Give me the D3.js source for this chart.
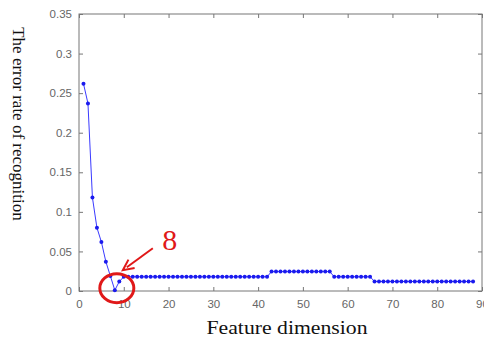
<!DOCTYPE html>
<html>
<head>
<meta charset="utf-8">
<script src="https://cdn.jsdelivr.net/npm/d3@7"></script>
<style>
  body { margin: 0; background: #fff; }
  svg { display: block; }
</style>
</head>
<body>
<svg id="chart" width="484" height="342"></svg>
<script>
// error rate per feature dimension
const headDims = [1, 2, 3, 4, 5, 6, 7, 8, 9];
const headRates = [0.262, 0.237, 0.118, 0.080, 0.062, 0.037, 0.019, 0.001, 0.012];
// plateau levels after dimension 9: [first dim, last dim, rate]
const plateaus = [
  [10, 42, 0.018],
  [43, 56, 0.0245],
  [57, 65, 0.018],
  [66, 88, 0.012]
];
const xTicks = [0, 10, 20, 30, 40, 50, 60, 70, 80, 90];
const yTicks = [0, 0.05, 0.1, 0.15, 0.2, 0.25, 0.3, 0.35];
const bestDim = 8;

// build the point list
const data = headDims.map((d, i) => ({ x: d, y: headRates[i] }));
plateaus.forEach(p => {
  for (let d = p[0]; d <= p[1]; d++) data.push({ x: d, y: p[2] });
});

const margin = { left: 79, top: 14, right: 2, bottom: 51 };
const width = 484, height = 342;

const svg = d3.select('#chart');

const x = d3.scaleLinear().domain([0, 90]).range([margin.left, width - margin.right]);
const y = d3.scaleLinear().domain([0, 0.35]).range([height - margin.bottom, margin.top]);

// box
svg.append('rect')
  .attr('x', x(0)).attr('y', y(0.35))
  .attr('width', x(90) - x(0)).attr('height', y(0) - y(0.35))
  .style('fill', 'none').style('stroke', '#777').style('stroke-width', 1);

const tickStyle = g => {
  g.select('.domain').remove();
  g.selectAll('line').style('stroke', '#777');
  g.selectAll('text').style('fill', '#666').style('font-family', 'Liberation Sans, Arial, sans-serif').style('font-size', '11.5px');
};

// bottom axis, ticks pointing inward
svg.append('g')
  .attr('transform', `translate(0,${y(0)})`)
  .call(d3.axisBottom(x).tickValues(xTicks).tickSizeInner(-4).tickSizeOuter(0).tickPadding(9).tickFormat(d3.format('d')))
  .call(tickStyle);

// top axis ticks only
svg.append('g')
  .attr('transform', `translate(0,${y(0.35)})`)
  .call(d3.axisTop(x).tickValues(xTicks).tickSizeInner(-4).tickSizeOuter(0).tickFormat(''))
  .call(tickStyle);

// left axis
svg.append('g')
  .attr('transform', `translate(${x(0)},0)`)
  .call(d3.axisLeft(y).tickValues(yTicks).tickSizeInner(-4).tickSizeOuter(0).tickPadding(7).tickFormat(d => d === 0 ? '0' : String(+d.toFixed(2))))
  .call(tickStyle);

// right axis ticks only
svg.append('g')
  .attr('transform', `translate(${x(90)},0)`)
  .call(d3.axisRight(y).tickValues(yTicks).tickSizeInner(-4).tickSizeOuter(0).tickFormat(''))
  .call(tickStyle);

// line
const line = d3.line().x(d => x(d.x)).y(d => y(d.y));
svg.append('path')
  .datum(data)
  .attr('d', line)
  .style('fill', 'none')
  .style('stroke', '#3a3aff')
  .style('stroke-width', 1);

// markers
svg.append('g')
  .selectAll('circle')
  .data(data)
  .enter().append('circle')
  .attr('cx', d => x(d.x))
  .attr('cy', d => y(d.y))
  .attr('r', 2)
  .style('fill', '#1a1aee');

// axis labels
svg.append('text')
  .attr('x', 287).attr('y', 334)
  .attr('text-anchor', 'middle')
  .attr('textLength', 161)
  .attr('lengthAdjust', 'spacingAndGlyphs')
  .style('font-family', 'Liberation Serif, Times New Roman, serif')
  .style('font-size', '19px')
  .style('fill', '#111')
  .text('Feature dimension');

svg.append('text')
  .attr('transform', 'translate(13,124) rotate(90)')
  .attr('text-anchor', 'middle')
  .style('font-family', 'Liberation Serif, Times New Roman, serif')
  .style('font-size', '17px')
  .style('fill', '#111')
  .text('The error rate of recognition');

// annotation: circle, arrow and label at the best dimension
const best = data.find(d => d.x === bestDim);
const cx = x(best.x) + 2, cy = y(best.y) - 2;
svg.append('ellipse')
  .attr('cx', cx).attr('cy', cy)
  .attr('rx', 17).attr('ry', 14.5)
  .style('fill', 'none').style('stroke', '#e01818').style('stroke-width', 3);

const ax0 = cx + 36, ay0 = cy - 40, ax1 = cx + 6, ay1 = cy - 18;
svg.append('line')
  .attr('x1', ax0).attr('y1', ay0).attr('x2', ax1 + 4).attr('y2', ay1 - 3)
  .style('stroke', '#e01818').style('stroke-width', 2);
const ang = Math.atan2(ay1 - ay0, ax1 - ax0);
const hl = 12, hw = 0.45;
svg.append('path')
  .attr('d', `M${ax1 - hl * Math.cos(ang - hw)},${ay1 - hl * Math.sin(ang - hw)} L${ax1},${ay1} L${ax1 - hl * Math.cos(ang + hw)},${ay1 - hl * Math.sin(ang + hw)}`)
  .style('fill', 'none').style('stroke', '#e01818').style('stroke-width', 2);

svg.append('text')
  .attr('x', cx + 53).attr('y', cy - 38)
  .attr('text-anchor', 'middle')
  .style('font-family', 'Liberation Serif, Times New Roman, serif')
  .style('font-size', '30px')
  .style('fill', '#e01818')
  .text(String(bestDim));
</script>
</body>
</html>
